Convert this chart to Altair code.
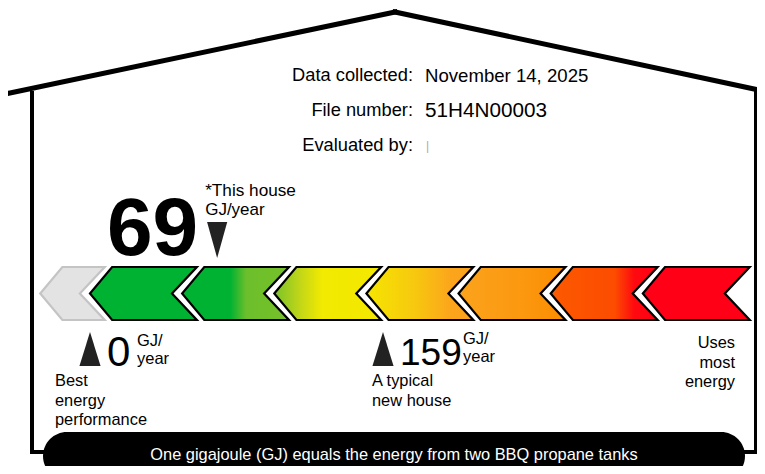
import altair as alt
import pandas as pd

# ---------------- data ----------------
band_names = ["off", "b1", "b2", "b3", "b4", "b5", "b6", "b7"]
band_start_gj = [-27, 0, 50, 100, 150, 200, 250, 300]   # left tip of each chevron (GJ/year)
band_end_gj = [8, 58, 108, 158, 208, 258, 308, 358]      # right corners of each chevron (GJ/year)
band_stops = [
    [("#e3e3e3", 0.0), ("#e3e3e3", 1.0)],
    [("#00b232", 0.0), ("#00b232", 1.0)],
    [("#00b232", 0.0), ("#00b232", 0.45), ("#6cbf2b", 0.6), ("#76c12a", 1.0)],
    [("#79c22a", 0.0), ("#c4d717", 0.25), ("#f2ea00", 0.45), ("#f4e800", 1.0)],
    [("#f5e600", 0.0), ("#f7c80f", 0.45), ("#fca41c", 0.8), ("#fca21c", 1.0)],
    [("#fba31c", 0.0), ("#fb9810", 0.6), ("#fb8c00", 1.0)],
    [("#fc5a00", 0.0), ("#fc4c00", 0.6), ("#ff0a10", 0.78), ("#ff0016", 1.0)],
    [("#ff0016", 0.0), ("#ff0016", 1.0)],
]
band_strokes = ["#c4c4c4", "#000", "#000", "#000", "#000", "#000", "#000", "#000"]

house_gj = 69
best_gj = 0
typical_gj = 159

info_labels = ["Data collected:", "File number:", "Evaluated by:"]
info_values = ["November 14, 2025", "51H4N00003", "|"]
footer_text = "One gigajoule (GJ) equals the energy from two BBQ propane tanks"

# ---------------- layout ----------------
W, H = 749, 458          # whole page (765x474) minus the 8px body margin
FONT = "Liberation Sans, Arial, sans-serif"
X_DOM = [-44.5, 361.95]
PX_PER_GJ = W / (X_DOM[1] - X_DOM[0])
xs = alt.Scale(domain=X_DOM, range=[0, W], nice=False, zero=False)
ys = alt.Scale(domain=[8, 8 + H], range=[0, H], nice=False, zero=False)
one = pd.DataFrame({"k": [0]})


def px(v):
    return v - 8


layers = []


# house outline
def seg(x1, y1, x2, y2, w):
    return alt.Chart(one).mark_rule(color="black", strokeWidth=w, strokeCap="square").encode(
        x=alt.value(px(x1)), y=alt.value(px(y1)), x2=alt.value(px(x2)), y2=alt.value(px(y2)))


layers += [
    seg(10, 93, 395, 12, 5),
    seg(395, 12, 768, 92, 5),
    seg(32, 93, 32, 452, 4),
    seg(32, 452, 50, 452, 4),
    seg(756, 90, 756, 452, 4),
    seg(756, 452, 740, 452, 4),
]

# footer pill
layers.append(alt.Chart(one).mark_rect(color="black", cornerRadius=24).encode(
    x=alt.value(px(43)), x2=alt.value(px(745)), y=alt.value(px(432)), y2=alt.value(px(480))))
layers.append(alt.Chart(one).mark_text(text=footer_text, color="white", font=FONT, fontSize=16.4,
                                       align="center", baseline="middle").encode(
    x=alt.value(px(394)), y=alt.value(px(455))))

# info block
info = pd.DataFrame({"label": info_labels, "value": info_values, "row": list(range(len(info_labels)))})
base_info = alt.Chart(info).transform_calculate(yy="76 + 35 * datum.row")
layers.append(base_info.mark_text(font=FONT, fontSize=18.3, align="right", baseline="middle", color="black").encode(
    x=alt.value(px(413)), y=alt.Y("yy:Q", scale=ys, axis=None), text="label:N"))
layers.append(base_info.transform_filter("datum.row != 2").mark_text(
    font=FONT, align="left", baseline="middle", color="black").encode(
    x=alt.value(px(425)), y=alt.Y("yy:Q", scale=ys, axis=None), text="value:N",
    size=alt.condition("datum.row == 1", alt.value(20.7), alt.value(18.6))))
layers.append(base_info.transform_filter("datum.row == 2").mark_text(
    font=FONT, fontSize=12, align="left", baseline="middle", color="#aaaaaa").encode(
    x=alt.value(px(426)), y=alt.Y("yy:Q", scale=ys, axis=None), text="value:N"))

# chevron bands (one symbol per band, sized from its GJ extent)
Y_MID, HALF_H = 293.5, 26.5
TIP, NOTCH = 12, 13.5
bands = pd.DataFrame({"band": list(range(len(band_names))),
                      "s": band_start_gj, "e": band_end_gj})
bands["mid"] = (bands["s"] + bands["e"]) / 2
for i in range(len(band_names)):
    wpx = (band_end_gj[i] - band_start_gj[i]) * PX_PER_GJ
    k = wpx / 2
    tipx = -1 + TIP * PX_PER_GJ / k
    notchx = 1 - NOTCH * PX_PER_GJ / k
    hh = HALF_H / k
    path = (f"M-1,0L{tipx:.4f},{-hh:.4f}L1,{-hh:.4f}L{notchx:.4f},0"
            f"L1,{hh:.4f}L{tipx:.4f},{hh:.4f}Z")
    grad = alt.Gradient(gradient="linear", x1=0, x2=1, y1=0, y2=0,
                        stops=[alt.GradientStop(color=c, offset=o) for c, o in band_stops[i]])
    layers.append(alt.Chart(bands).transform_filter(f"datum.band == {i}").mark_point(
        shape=path, size=wpx * wpx, filled=True, fill=grad, opacity=1,
        stroke=band_strokes[i], strokeWidth=2.2, strokeOpacity=1, strokeJoin="miter").encode(
        x=alt.X("mid:Q", scale=xs, axis=None),
        y=alt.value(px(Y_MID))))

# markers
marks = pd.DataFrame({"gj": [best_gj, typical_gj]})
layers.append(alt.Chart(marks).mark_point(shape="M-0.62,1L0,-1L0.62,1Z", size=1156, filled=True,
                                          color="#222", opacity=1, strokeWidth=0).encode(
    x=alt.X("gj:Q", scale=xs, axis=None), y=alt.value(px(349))))
house = pd.DataFrame({"gj": [house_gj]})
layers.append(alt.Chart(house).mark_point(shape="M-0.56,-1L0.56,-1L0,1Z", size=1296, filled=True,
                                          color="#222", opacity=1, strokeWidth=0).encode(
    x=alt.X("gj:Q", scale=xs, axis=None), y=alt.value(px(240))))


def label(df, field, dx, ypix, size, align="left", weight="normal", baseline="middle", lh=None, txt=None):
    kw = dict(font=FONT, fontSize=size, align=align, baseline=baseline, fontWeight=weight,
              color="black", dx=dx)
    if lh:
        kw["lineHeight"] = lh
    ch = alt.Chart(df).mark_text(**kw)
    enc = dict(x=alt.X(field + ":Q", scale=xs, axis=None), y=alt.value(px(ypix)))
    if txt is not None:
        enc["text"] = alt.value(txt)
    return ch.encode(**enc)


house["num"] = house["gj"].astype(str)
layers.append(label(house, "gj", -19, 255, 82, align="right", weight="bold", baseline="alphabetic")
              .encode(text="num:N"))
layers.append(label(house, "gj", -12, 191, 17.2, txt="*This house"))
layers.append(label(house, "gj", -12, 210, 17, txt="GJ/year"))

best = pd.DataFrame({"gj": [best_gj], "num": [str(best_gj)]})
layers.append(label(best, "gj", 17, 366, 42, baseline="alphabetic").encode(text="num:N"))
layers.append(label(best, "gj", 47, 341, 16.5, txt="GJ/"))
layers.append(label(best, "gj", 47, 359, 16.5, txt="year"))
layers.append(label(best, "gj", -35, 373, 16.4, baseline="top", lh=19.5,
                    txt=["Best", "energy", "performance"]))

typ = pd.DataFrame({"gj": [typical_gj], "num": [str(typical_gj)]})
layers.append(label(typ, "gj", 17, 365, 37, baseline="alphabetic").encode(text="num:N"))
layers.append(label(typ, "gj", 80, 339, 16.5, txt="GJ/"))
layers.append(label(typ, "gj", 80, 357, 16.5, txt="year"))
layers.append(label(typ, "gj", -11, 373, 16.4, baseline="top", lh=19.5,
                    txt=["A typical", "new house"]))

layers.append(alt.Chart(one).mark_text(font=FONT, fontSize=16.4, align="right", baseline="top",
                                       lineHeight=19.5, color="black",
                                       text=["Uses", "most", "energy"]).encode(
    x=alt.value(px(735)), y=alt.value(px(335))))

chart = alt.layer(*layers).properties(
    width=W, height=H, autosize=alt.AutoSizeParams(type="none"), padding=0
).configure_view(stroke=None)

chart.save("out.html", embed_options={"renderer": "svg", "actions": False})
